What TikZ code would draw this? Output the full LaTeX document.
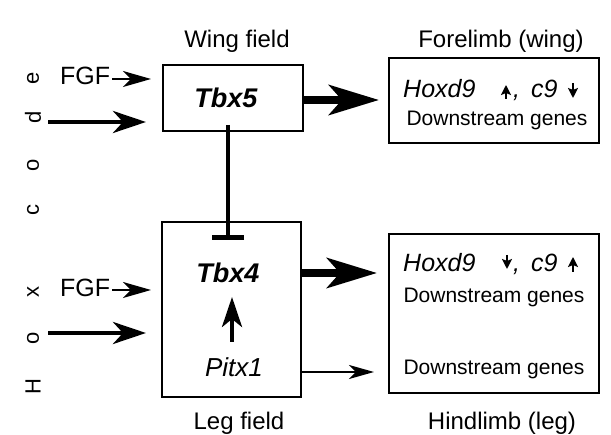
\documentclass[tikz,border=0pt]{standalone}
\usepackage{fontspec}
\setmainfont{Liberation Sans}
\usetikzlibrary{arrows.meta}
\tikzset{
  box/.style={draw, line width=2pt, inner sep=0pt},
  txt/.style={inner sep=0pt, anchor=base},
  title/.style={txt, font=\fontsize{24}{28}\selectfont},
  genes/.style={txt, font=\fontsize{21}{25}\selectfont},
  hox/.style={inner sep=0pt, anchor=base west, font=\fontsize{25}{29}\selectfont\itshape},
  tbx/.style={txt, font=\fontsize{27}{31}\selectfont\bfseries\itshape},
  fgf/.style={inner sep=0pt, anchor=base west, font=\fontsize{25}{29}\selectfont},
  hoxcode/.style={inner sep=0pt, rotate=90, font=\fontsize{22}{26}\selectfont},
  bigarrow/.style={line width=8pt, -{Stealth[length=50pt,width=30pt,inset=13pt]}},
  medarrow/.style={line width=4.5pt, -{Stealth[length=33pt,width=22pt,inset=10pt]}},
  fgfarrow/.style={line width=2pt, -{Stealth[length=28pt,width=16pt,inset=8pt]}},
  thinarrow/.style={line width=2.5pt, -{Stealth[length=25pt,width=14pt,inset=7pt]}},
  pitarrow/.style={line width=4pt, -{Stealth[length=30pt,width=20pt,inset=8pt]}},
  tiny/.style={line width=2pt, -{Stealth[length=10pt,width=10pt,inset=2pt]}},
  inhib/.style={line width=4.5pt, -{Bar[width=32pt]}},
}
\begin{document}
\begin{tikzpicture}[x=1pt,y=-1pt]
\useasboundingbox[fill=white] (0,0) rectangle (611,435);

% boxes
\node[box, minimum width=140pt, minimum height=66pt] (tbx5box) at (233,98) {};
\node[box, minimum width=210pt, minimum height=85pt] (fore) at (494,100.5) {};
\node[box, minimum width=139pt, minimum height=175pt] (leg) at (231.5,309.5) {};
\node[box, minimum width=210pt, minimum height=159pt] (hind) at (494,313.5) {};

% titles
\node[title] (wingf) at (237,48) {Wing field};
\node[title] (forel) at (501,48) {Forelimb (wing)};
\node[title] (legf) at (239,430) {Leg field};
\node[title] (hindl) at (502,430) {Hindlimb (leg)};

% inner texts
\node[tbx] (tbx5) at (226,108) {Tbx5};
\node[tbx] (tbx4) at (228,283) {Tbx4};
\node[txt, font=\fontsize{26}{30}\selectfont\itshape] (pitx1) at (234,377) {Pitx1};

\node[hox] (hoxF) at (403,98) {Hoxd9};
\node[hox] (comF) at (513,98) {,};
\node[hox] (c9F) at (531,98) {c9};
\node[genes] (dsF) at (497,126) {Downstream genes};

\node[hox] (hoxH) at (403,272) {Hoxd9};
\node[hox] (comH) at (513,272) {,};
\node[hox] (c9H) at (531,272) {c9};
\node[genes] (dsH1) at (494,303) {Downstream genes};
\node[genes] (dsH2) at (494,375) {Downstream genes};

% FGF
\node[fgf] (fgf1) at (60,85) {FGF};
\node[fgf] (fgf2) at (60,297) {FGF};

% Hox code
\node[hoxcode] (he) at (33,78) {e};
\node[hoxcode] (hd) at (33,117) {d};
\node[hoxcode] (ho1) at (33,165) {o};
\node[hoxcode] (hc) at (33,210) {c};
\node[hoxcode] (hx) at (33,292) {x};
\node[hoxcode] (ho2) at (33,338) {o};
\node[hoxcode] (hH) at (33,387) {H};

% coordinates
\coordinate (hoxA) at (48,122);
\coordinate (hoxB) at (48,333);
\coordinate (fgfA) at (112,79);
\coordinate (fgfB) at (112,290);
\coordinate (inhA) at (228,125);
\coordinate (inhB) at (228,240);
\coordinate (pA) at (232,342);
\coordinate (pB) at (232,297);
\coordinate (wA) at (303,100);
\coordinate (lA) at (301,273);
\coordinate (lB) at (301,372);
\coordinate (uF1) at (506,99);
\coordinate (uF2) at (506,85);
\coordinate (dF1) at (573,83);
\coordinate (dF2) at (573,98);
\coordinate (dH1) at (507,255);
\coordinate (dH2) at (507,269);
\coordinate (uH1) at (573,272);
\coordinate (uH2) at (573,257);

% connectors
\draw[fgfarrow, shorten >=11pt] (fgfA) -- (fgfA -| tbx5box.west);
\draw[medarrow, shorten >=16pt] (hoxA) -- (hoxA -| tbx5box.west);
\draw[fgfarrow, shorten >=10pt] (fgfB) -- (fgfB -| leg.west);
\draw[medarrow, shorten >=15pt] (hoxB) -- (hoxB -| leg.west);

\draw[bigarrow, shorten >=9pt] (wA) -- (wA -| fore.west);
\draw[bigarrow, shorten >=11pt] (lA) -- (lA -| hind.west);
\draw[thinarrow, shorten >=14pt] (lB) -- (lB -| hind.west);

\draw[inhib] (inhA) -- (inhB);
\draw[pitarrow] (pA) -- (pB);

\draw[tiny] (uF1) -- (uF2);
\draw[tiny] (dF1) -- (dF2);
\draw[tiny] (dH1) -- (dH2);
\draw[tiny] (uH1) -- (uH2);
\end{tikzpicture}
\end{document}
